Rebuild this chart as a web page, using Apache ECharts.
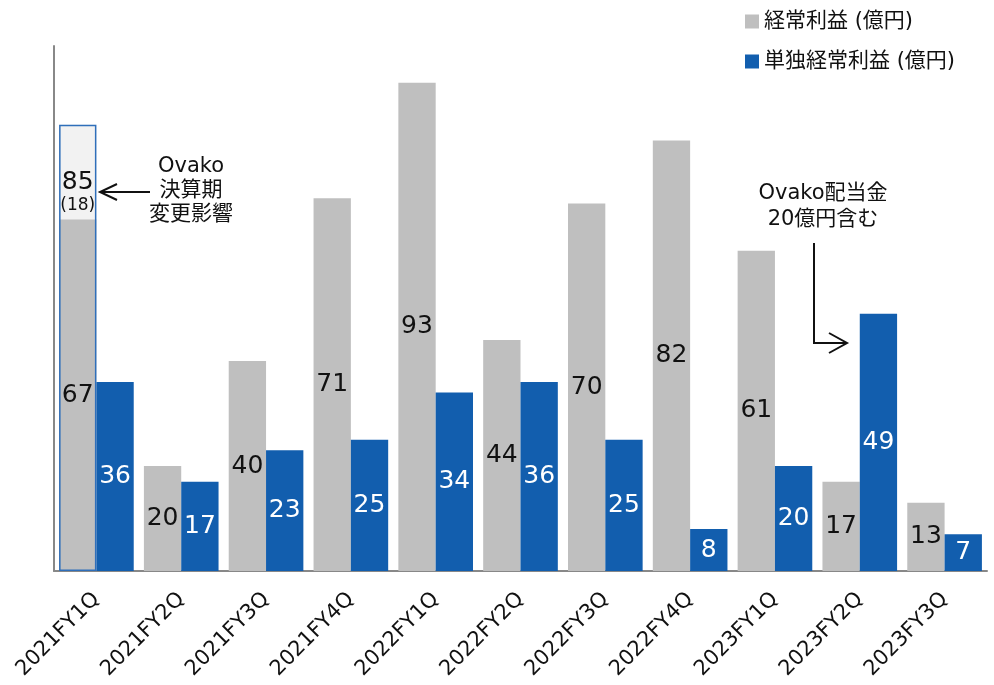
<!DOCTYPE html>
<html>
<head>
<meta charset="utf-8">
<script src="https://cdn.jsdelivr.net/npm/echarts@6/dist/echarts.min.js"></script>
<style>
  html, body { margin: 0; padding: 0; background: #fff; }
  #chart { width: 994px; height: 685px; }
</style>
</head>
<body>
<div id="chart"></div>
<script>
const categories = ['2021FY1Q', '2021FY2Q', '2021FY3Q', '2021FY4Q', '2022FY1Q', '2022FY2Q',
    '2022FY3Q', '2022FY4Q', '2023FY1Q', '2023FY2Q', '2023FY3Q']
const ordinaryProfit = [67, 20, 40, 71, 93, 44, 70, 82, 61, 17, 13]
const standaloneProfit = [36, 17, 23, 25, 34, 36, 25, 8, 20, 49, 7]
// 決算期変更前の値 (1Qのみ)
const reportedTotal = [85, null, null, null, null, null, null, null, null, null, null]

const grayColor = '#bfbfbf'
const blueColor = '#125eae'
const font = "'DejaVu Sans', 'Noto Sans CJK JP', sans-serif"

const extraPart = reportedTotal.map((v, i) => (v == null ? '-' : v - ordinaryProfit[i]))

const chart = echarts.init(document.getElementById('chart'))

const opt = {
    animation: false,
    textStyle: { fontFamily: font },
    legend: {
        orient: 'vertical',
        left: 740,
        top: 6,
        itemWidth: 14,
        itemHeight: 14,
        itemGap: 19,
        icon: 'rect',
        data: ['経常利益 (億円)', '単独経常利益 (億円)'],
        textStyle: { fontSize: 21, color: '#111', fontFamily: font }
    },
    grid: { left: 54, right: 7, top: 46, bottom: 114 },
    xAxis: [
        {
            type: 'category',
            data: categories,
            axisLine: { lineStyle: { color: '#888', width: 2 } },
            axisTick: { show: false },
            axisLabel: {
                interval: 0,
                rotate: 45,
                margin: 25,
                fontSize: 21,
                color: '#111',
                fontFamily: font
            }
        },
        {
            type: 'category',
            data: categories,
            show: false
        }
    ],
    yAxis: {
        type: 'value',
        min: 0,
        max: 100,
        axisLine: { show: true, lineStyle: { color: '#888', width: 2 } },
        axisTick: { show: false },
        axisLabel: { show: false },
        splitLine: { show: false }
    },
    series: [
        {
            name: '経常利益 (億円)',
            type: 'bar',
            stack: 'ord',
            data: ordinaryProfit,
            barGap: 0,
            barCategoryGap: '12%',
            itemStyle: { color: grayColor },
            label: {
                show: true,
                position: 'inside',
                fontSize: 25,
                color: '#111',
                fontFamily: font
            }
        },
        {
            name: 'extra',
            type: 'bar',
            stack: 'ord',
            data: extraPart,
            barGap: 0,
            barCategoryGap: '12%',
            itemStyle: { color: '#f2f2f2' },
            label: {
                show: true,
                position: 'insideBottom',
                distance: 3,
                formatter: p => '{a|' + reportedTotal[p.dataIndex] + '}\n{b|(' + p.value + ')}',
                rich: {
                    a: { fontSize: 25, lineHeight: 26, color: '#111', fontFamily: font },
                    b: { fontSize: 17, lineHeight: 21, color: '#111', fontFamily: font }
                }
            }
        },
        {
            name: '単独経常利益 (億円)',
            type: 'bar',
            data: standaloneProfit,
            barGap: 0,
            barCategoryGap: '12%',
            itemStyle: { color: blueColor },
            label: {
                show: true,
                position: 'inside',
                fontSize: 25,
                color: '#fff',
                fontFamily: font
            }
        },
        {
            name: 'outline',
            type: 'bar',
            xAxisIndex: 1,
            data: reportedTotal.map(v => (v == null ? '-' : v)),
            barGap: 0,
            barCategoryGap: '12%',
            z: 5,
            silent: true,
            itemStyle: { color: 'rgba(0,0,0,0)', borderColor: '#2f6fba', borderWidth: 1.5 }
        },
        {
            name: 'placeholder',
            type: 'bar',
            xAxisIndex: 1,
            data: categories.map(() => '-'),
            barGap: 0,
            barCategoryGap: '12%'
        }
    ],
    graphic: [
        {
            type: 'text',
            style: {
                text: 'Ovako\n決算期\n変更影響',
                x: 191, y: 155,
                align: 'center',
                fontSize: 21,
                lineHeight: 24,
                fill: '#111',
                fontFamily: font
            }
        },
        {
            type: 'polyline',
            shape: { points: [[150, 192], [100, 192]] },
            style: { stroke: '#111', lineWidth: 2, fill: null }
        },
        {
            type: 'polyline',
            shape: { points: [[117, 184], [100, 192], [117, 200]] },
            style: { stroke: '#111', lineWidth: 2, fill: null }
        },
        {
            type: 'text',
            style: {
                text: 'Ovako配当金\n20億円含む',
                x: 823, y: 181,
                align: 'center',
                fontSize: 21,
                lineHeight: 26,
                fill: '#111',
                fontFamily: font
            }
        },
        {
            type: 'polyline',
            shape: { points: [[814, 243], [814, 343], [846, 343]] },
            style: { stroke: '#111', lineWidth: 2, fill: null }
        },
        {
            type: 'polyline',
            shape: { points: [[829, 333], [847, 343], [829, 353]] },
            style: { stroke: '#111', lineWidth: 2, fill: null }
        }
    ]
}

chart.setOption(opt)
</script>
</body>
</html>
